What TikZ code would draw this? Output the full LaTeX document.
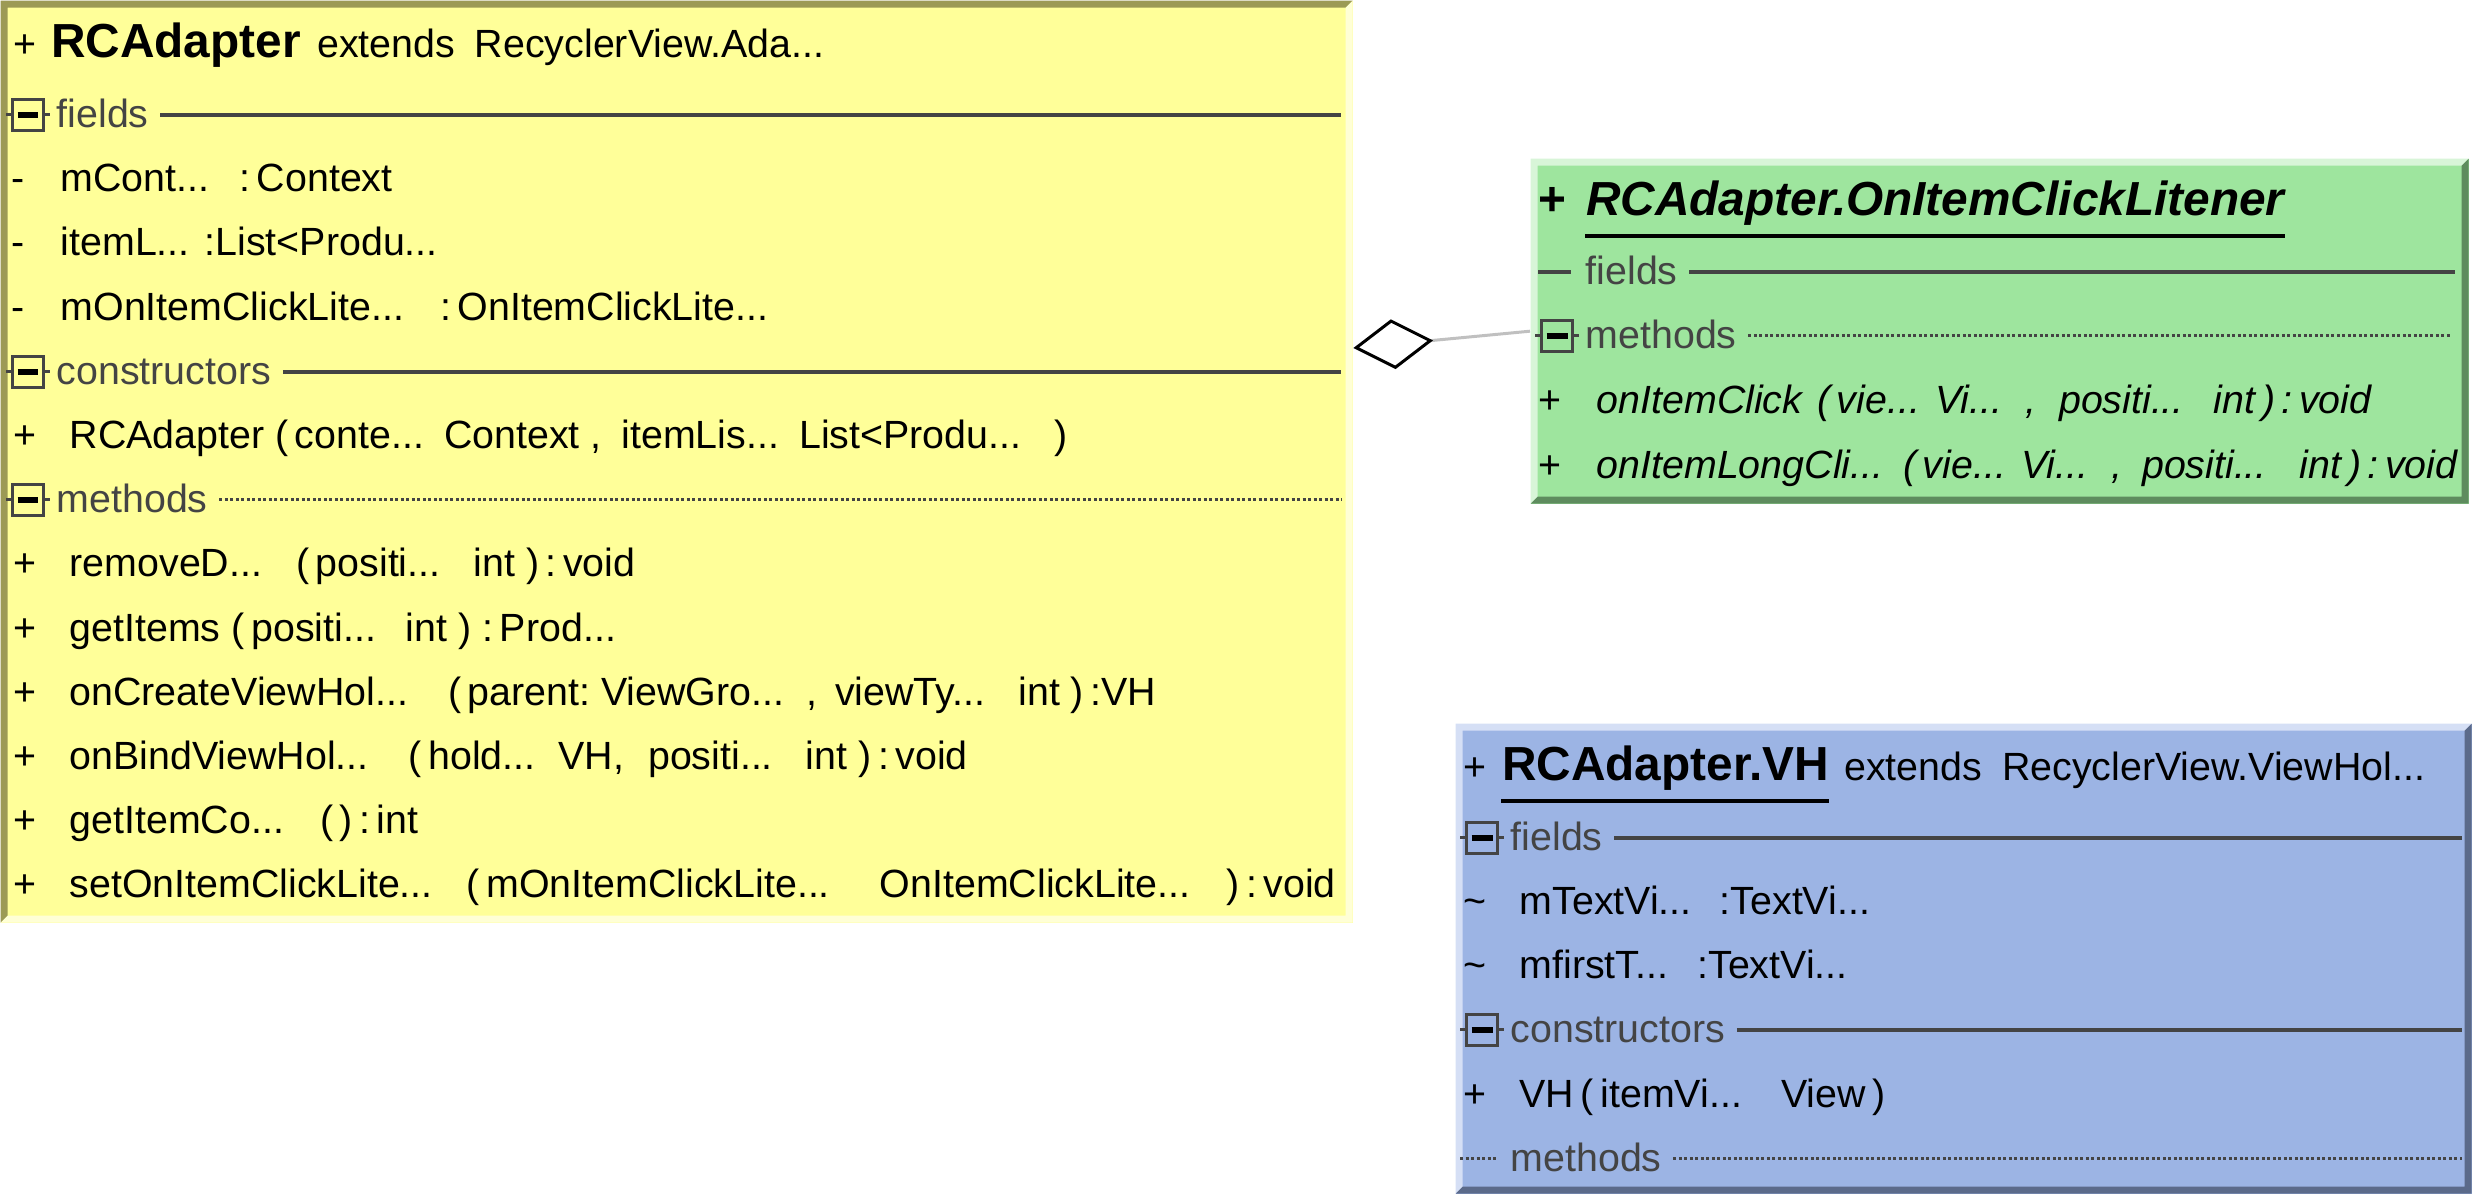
\documentclass[tikz,border=0pt]{standalone}
\usepackage{fontspec}
\setmainfont{Liberation Sans}
\usepackage{xcolor}
\usepackage{tikz}
\usetikzlibrary{positioning,arrows.meta,calc}

\definecolor{ylwfill}{HTML}{FFFF99}
\definecolor{ylwdark}{HTML}{9C9A55}
\definecolor{ylwlight}{HTML}{FFFFD6}
\definecolor{grnfill}{HTML}{9EE59E}
\definecolor{grnlight}{HTML}{D8F5D8}
\definecolor{grndark}{HTML}{5E8C5E}
\definecolor{blufill}{HTML}{9CB4E4}
\definecolor{blulight}{HTML}{D5DFF5}
\definecolor{bludark}{HTML}{5B6A8A}
\definecolor{hdrgray}{HTML}{444444}
\definecolor{linkgray}{HTML}{C0C0C0}

\newcommand{\memfont}{\fontsize{11.2pt}{13pt}\selectfont}
\newcommand{\ttlfont}{\fontsize{13.6pt}{16pt}\selectfont\bfseries}
\newcommand{\vis}[2][0.56cm]{\makebox[#1][l]{#2}}

\begin{document}
\begin{tikzpicture}[
    font=\memfont,
    cls/.style n args={3}{rectangle, inner sep=0, anchor=north west, fill=#1,
      path picture={
        \coordinate (pnw) at (path picture bounding box.north west);
        \coordinate (pse) at (path picture bounding box.south east);
        \fill[#2] (pnw) -- (pnw -| pse) -- ($(pnw -| pse)+(-0.07,-0.07)$) -- ($(pnw)+(0.07,-0.07)$)
          -- ($(pnw |- pse)+(0.07,0.07)$) -- (pnw |- pse) -- cycle;
        \fill[#3] (pse) -- (pnw -| pse) -- ($(pnw -| pse)+(-0.07,-0.07)$) -- ($(pse)+(-0.07,0.07)$)
          -- ($(pnw |- pse)+(0.07,0.07)$) -- (pnw |- pse) -- cycle;
      }},
    mem/.style={anchor=base west, inner sep=0},
    memi/.style={mem, font=\memfont\itshape},
    hdr/.style={mem, text=hdrgray},
    ttl/.style={mem, font=\ttlfont},
    tog/.style={rectangle, draw=hdrgray, line width=0.035cm, inner sep=0, minimum size=0.31cm,
      path picture={\draw[black, line width=0.055cm]
        ([xshift=0.05cm]path picture bounding box.west) -- ([xshift=-0.05cm]path picture bounding box.east);},
      append after command={(\tikzlastnode.west) edge[draw=hdrgray, line width=0.03cm] ([xshift=-0.05cm]\tikzlastnode.west)
        (\tikzlastnode.east) edge[draw=hdrgray, line width=0.03cm] ([xshift=0.05cm]\tikzlastnode.east)}},
    hline/.style={draw=hdrgray, line width=0.035cm},
    dline/.style={draw=hdrgray, line width=0.03cm, dash pattern=on 0.03cm off 0.025cm},
    uline/.style={draw=black, line width=0.04cm},
    aggr/.style={draw=linkgray, line width=0.03cm,
      -{Diamond[length=0.8cm, width=0.5cm, line width=0.03cm, color=black, fill=white]}}
]
\useasboundingbox (0,0) rectangle (24.76,-11.96);

\node[cls={ylwfill}{ylwdark}{ylwlight}, minimum width=13.52cm, minimum height=9.22cm] (ylw) at (0,0) {};
\node[mem] (yTtlS) at (0.13,-0.58) {+};
\node[ttl, base right=0.13cm of yTtlS] (yTtl) {RCAdapter};
\node[mem, base right=0.15cm of yTtl] (yExt) {extends\hspace{0.2cm}RecyclerView.Ada...};

\node[tog] (yFldI) at (0.28,-1.15) {};
\node[hdr] (yFld) at (0.56,-1.28) {fields};
\draw[hline] ($(yFld.base east)+(0.11,0.13)$) -- ($(yFld.base -| ylw.east)+(-0.12,0.13)$);
\node[mem] (yF1) at (0.11,-1.92) {\vis[0.49cm]{-}mCont...\hspace{0.3cm}:\,Context};
\node[mem] (yF2) at (0.11,-2.56) {\vis[0.49cm]{-}itemL...\hspace{0.15cm}:List<Produ...};
\node[mem] (yF3) at (0.11,-3.21) {\vis[0.49cm]{-}mOnItemClickLite...\hspace{0.36cm}:\,OnItemClickLite...};

\node[tog] (yConI) at (0.28,-3.72) {};
\node[hdr] (yCon) at (0.56,-3.85) {constructors};
\draw[hline] ($(yCon.base east)+(0.11,0.13)$) -- ($(yCon.base -| ylw.east)+(-0.12,0.13)$);
\node[mem] (yC1) at (0.13,-4.49) {\vis{+}RCAdapter~(\,conte...\hspace{0.2cm}Context~,\hspace{0.2cm}itemLis...\hspace{0.2cm}List<Produ...\hspace{0.33cm})};

\node[tog] (yMetI) at (0.28,-5.00) {};
\node[hdr] (yMet) at (0.56,-5.13) {methods};
\draw[dline] ($(yMet.base east)+(0.11,0.13)$) -- ($(yMet.base -| ylw.east)+(-0.12,0.13)$);
\node[mem] (yM1) at (0.13,-5.77) {\vis{+}removeD...\hspace{0.34cm}(\,positi...\hspace{0.33cm}int~)\,:\,void};
\node[mem] (yM2) at (0.13,-6.42) {\vis{+}getItems~(\,positi...\hspace{0.3cm}int~)~:\,Prod...};
\node[mem] (yM3) at (0.13,-7.06) {\vis{+}onCreateViewHol...\hspace{0.4cm}(\,parent:~ViewGro...\hspace{0.22cm},\hspace{0.18cm}viewTy...\hspace{0.33cm}int~)\,:VH};
\node[mem] (yM4) at (0.13,-7.70) {\vis{+}onBindViewHol...\hspace{0.4cm}(\,hold...\hspace{0.23cm}VH,\hspace{0.24cm}positi...\hspace{0.33cm}int~)\,:\,void};
\node[mem] (yM5) at (0.13,-8.34) {\vis{+}getItemCo...\hspace{0.36cm}(\,)\,:\,int};
\node[mem] (yM6) at (0.13,-8.98) {\vis{+}setOnItemClickLite...\hspace{0.34cm}(\,mOnItemClickLite...\hspace{0.5cm}OnItemClickLite...\hspace{0.36cm})\,:\,void};

\node[cls={grnfill}{grnlight}{grndark}, minimum width=9.38cm, minimum height=3.45cm] (grn) at (15.30,-1.58) {};
\node[ttl] (gTtlS) at (15.38,-2.16) {+};
\node[ttl, font=\ttlfont\itshape, base right=0.18cm of gTtlS] (gTtl) {RCAdapter.OnItemClickLitener};
\draw[uline] ([yshift=-0.2cm]gTtl.base west) -- ([yshift=-0.2cm]gTtl.base east);
\node[hdr] (gFld) at (15.85,-2.85) {fields};
\draw[hline] ($(gFld.base west)+(-0.47,0.13)$) -- ++(0.33,0);
\draw[hline] ($(gFld.base east)+(0.11,0.13)$) -- ($(gFld.base -| grn.east)+(-0.14,0.13)$);
\node[tog] (gMetI) at (15.57,-3.36) {};
\node[hdr] (gMet) at (15.85,-3.49) {methods};
\draw[dline] ($(gMet.base east)+(0.11,0.13)$) -- ($(gMet.base -| grn.east)+(-0.18,0.13)$);
\node[memi] (gM1) at (15.38,-4.14) {\vis[0.58cm]{\upshape +}onItemClick\hspace{0.15cm}(\,vie...\hspace{0.15cm}Vi...\hspace{0.23cm},\hspace{0.23cm}positi...\hspace{0.3cm}int\,)\,:\,void};
\node[memi] (gM2) at (15.38,-4.79) {\vis[0.58cm]{\upshape +}onItemLongCli...\hspace{0.2cm}(\,vie...\hspace{0.15cm}Vi...\hspace{0.23cm},\hspace{0.2cm}positi...\hspace{0.33cm}int\,)\,:\,void};

\node[cls={blufill}{blulight}{bludark}, minimum width=10.16cm, minimum height=4.70cm] (blu) at (14.55,-7.23) {};
\node[mem] (bTtlS) at (14.63,-7.81) {+};
\node[ttl, base right=0.14cm of bTtlS] (bTtl) {RCAdapter.VH};
\draw[uline] ([yshift=-0.2cm]bTtl.base west) -- ([yshift=-0.2cm]bTtl.base east);
\node[mem, base right=0.14cm of bTtl] (bExt) {extends\hspace{0.2cm}RecyclerView.ViewHol...};
\node[tog] (bFldI) at (14.82,-8.38) {};
\node[hdr] (bFld) at (15.10,-8.51) {fields};
\draw[hline] ($(bFld.base east)+(0.11,0.13)$) -- ($(bFld.base -| blu.east)+(-0.10,0.13)$);
\node[mem] (bF1) at (14.63,-9.15) {\vis{\textasciitilde}mTextVi...\hspace{0.28cm}:TextVi...};
\node[mem] (bF2) at (14.63,-9.79) {\vis{\textasciitilde}mfirstT...\hspace{0.29cm}:TextVi...};
\node[tog] (bConI) at (14.82,-10.30) {};
\node[hdr] (bCon) at (15.10,-10.43) {constructors};
\draw[hline] ($(bCon.base east)+(0.11,0.13)$) -- ($(bCon.base -| blu.east)+(-0.10,0.13)$);
\node[mem] (bC1) at (14.63,-11.08) {\vis{+}VH\,(\,itemVi...\hspace{0.39cm}View\,)};
\node[hdr] (bMet) at (15.10,-11.72) {methods};
\draw[dline] ($(bMet.base west)+(-0.50,0.13)$) -- ++(0.36,0);
\draw[dline] ($(bMet.base east)+(0.11,0.13)$) -- ($(bMet.base -| blu.east)+(-0.10,0.13)$);

\draw[aggr] (grn.west) -- ([yshift=-3.48cm]ylw.north east);

\end{tikzpicture}
\end{document}
